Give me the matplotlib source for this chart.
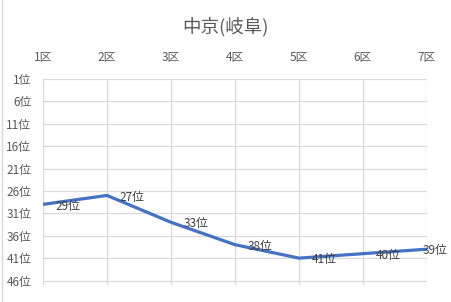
import matplotlib
matplotlib.use("Agg")
import matplotlib.pyplot as plt
from matplotlib.lines import Line2D

plt.rcParams['font.family'] = ['Noto Sans CJK JP', 'DejaVu Sans']

categories = ["1区", "2区", "3区", "4区", "5区", "6区", "7区"]
ranks = [29, 27, 33, 38, 41, 40, 39]
ytick_values = [1, 6, 11, 16, 21, 26, 31, 36, 41, 46]
ytick_labels = [f"{v}位" for v in ytick_values]
data_labels = [f"{v}位" for v in ranks]
title = "中京(岐阜)"

W, H = 451, 302
fig = plt.figure(figsize=(W/100, H/100), dpi=100)
ax = fig.add_axes([43/W, 1-285/H, (427-43)/W, (285-79)/H])

x = list(range(len(categories)))
ax.plot(x, ranks, color="#4472C4", linewidth=2.3, solid_capstyle="round", zorder=3)
anns = []
for xi, yi, lab in zip(x, ranks, data_labels):
    a = ax.annotate(lab, (xi, yi), xytext=(9, -1.2), textcoords="offset points",
                    ha="left", va="center", fontsize=8.5, color="#404040", zorder=4)
    anns.append(a)

ax.set_xlim(0, len(categories)-1)
ax.set_ylim(47, 1)
ax.set_yticks(ytick_values)
ax.set_yticklabels(ytick_labels)
ax.set_xticks(x)
ax.set_xticklabels(categories)
ax.xaxis.tick_top()
ax.tick_params(axis="x", length=0, pad=11, labelsize=8.5, labelcolor="#595959")
ax.tick_params(axis="y", length=0, pad=8.5, labelsize=8.5, labelcolor="#595959")
ax.grid(True, color="#D9D9D9", linewidth=0.9)
ax.set_axisbelow(True)
for s in ax.spines.values():
    s.set_visible(False)

fig.text(0.5, 1-27/H, title, ha="center", va="center", fontsize=13.3, color="#595959")
fig.add_artist(Line2D([1.5/W, 1.5/W], [0, 1], color="#D9D9D9", linewidth=1))

# keep data labels inside the chart area, as the spreadsheet does
fig.canvas.draw()
r = fig.canvas.get_renderer()
for a in anns:
    bb = a.get_window_extent(r)
    over = bb.x1 - (W - 4)
    if over > 0:
        ox, oy = a.xyann
        a.xyann = (ox - over * 72 / 100, oy)

fig.savefig("out.png", dpi=100)
